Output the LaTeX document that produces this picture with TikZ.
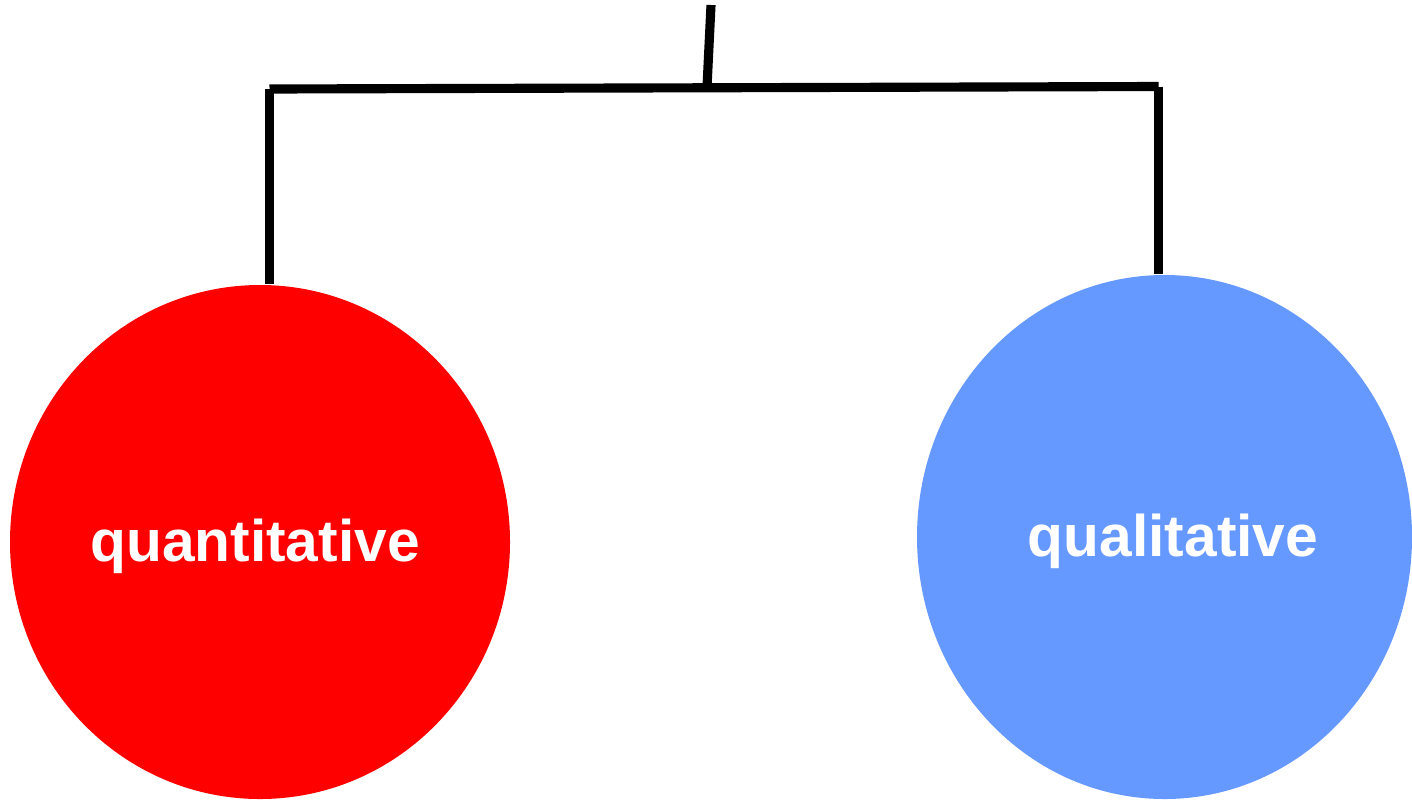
\documentclass[tikz,border=0pt]{standalone}
\usepackage{fontspec}
\setmainfont{Liberation Sans}
\usepackage{tikz}
\usetikzlibrary{shapes.geometric,calc}

\begin{document}
\begin{tikzpicture}[
        bar/.style={line width=2.6pt},
        blob/.style={ellipse, inner sep=0pt},
        word/.style={text=white, font=\fontsize{16.7}{20}\selectfont\bfseries}]
                \useasboundingbox (0,0) rectangle (14.12,-7.99);
                \node[blob, fill={rgb,255:red,255;green,0;blue,0},
                      minimum width=5.00cm, minimum height=5.14cm] (quant) at (2.60,-5.42) {};
                \node[blob, fill={rgb,255:red,102;green,153;blue,255},
                      minimum width=4.95cm, minimum height=5.24cm] (qual) at (11.645,-5.37) {};
                \node[word] (quantlbl) at ($(quant.center)+(-0.05,-0.04)$) {quantitative};
                \node[word] (quallbl) at ($(qual.center)+(0.085,-0.04)$) {qualitative};
                \coordinate (top) at (7.11,-0.05);
                \coordinate (mid) at (7.07,-0.87);
                \coordinate (lcorner) at (2.695,-0.89);
                \coordinate (rcorner) at (11.585,-0.865);
                \draw[bar] (top)--(mid);
                \draw[bar] (lcorner)--(rcorner);
                \draw[bar] (lcorner)--(lcorner |- quant.north);
                \draw[bar] (rcorner)--(rcorner |- qual.north);
            \end{tikzpicture}
\end{document}
